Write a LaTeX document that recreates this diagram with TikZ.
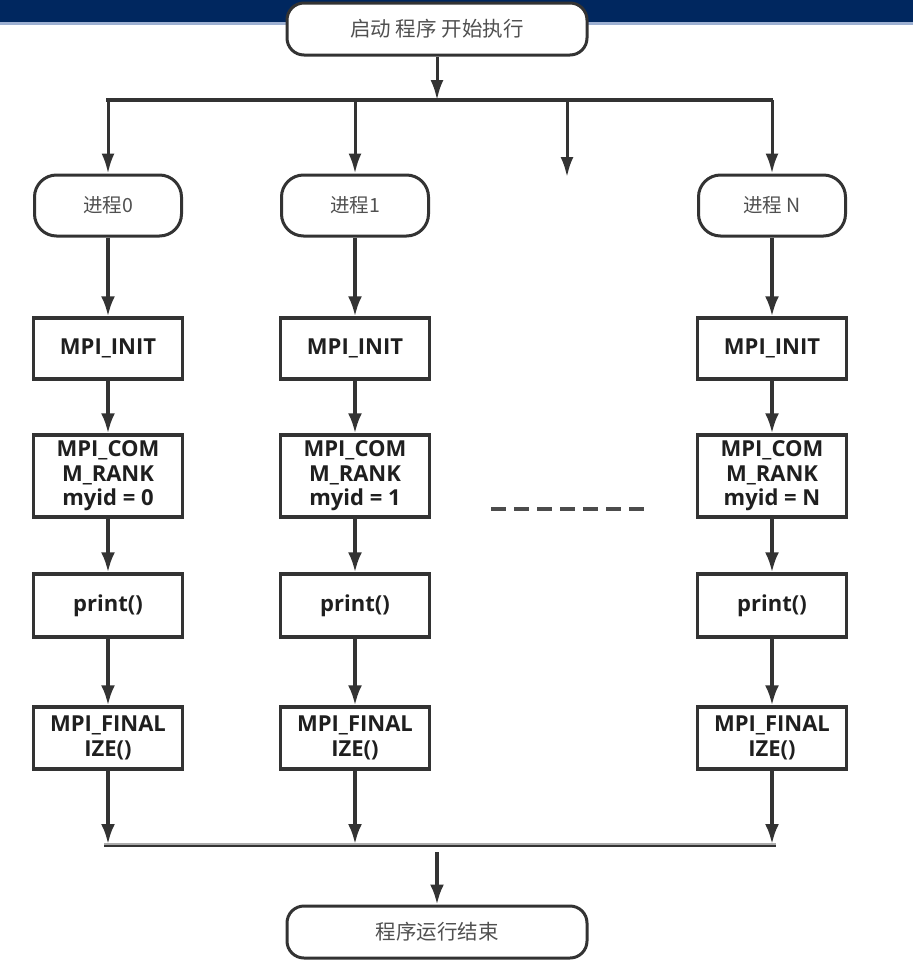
\documentclass[tikz,border=0pt]{standalone}
\usepackage{fontspec}
\setmainfont{Open Sans}
\newfontfamily\cjk{Noto Sans CJK SC}
\usetikzlibrary{arrows.meta}
\definecolor{band}{HTML}{00275F}
\definecolor{bandline}{HTML}{9DB0D2}
\definecolor{lineclr}{HTML}{333333}
\definecolor{cjktext}{HTML}{505050}
\tikzset{
  term/.style={draw=lineclr, line width=3pt, fill=white, rounded corners=22pt,
    minimum width=147pt, minimum height=61pt, inner sep=0pt,
    font=\cjk\fontsize{19.5}{23}\selectfont, text=cjktext},
  bigterm/.style={term, rounded corners=17pt, minimum width=300pt, minimum height=52pt,
    font=\cjk\fontsize{20.5}{24}\selectfont},
  procbox/.style={draw=lineclr, line width=3.4pt, fill=white, minimum width=149pt,
    inner sep=0pt, font=\bfseries\fontsize{22}{24.5}\selectfont, text=black!88, align=center},
  arr/.style={draw=lineclr, line width=3.4pt, -{Latex[length=20pt,width=14pt]}},
  thinarr/.style={draw=lineclr, line width=3pt, -{Latex[length=20pt,width=13pt]}},
  busline/.style={draw=lineclr, line width=3.2pt},
}
\begin{document}
\begin{tikzpicture}[x=1pt,y=-1pt]
\useasboundingbox (0,0) rectangle (913,961);
% top band
\fill[band] (0,0) rectangle (913,22);
\fill[bandline] (0,22) rectangle (913,25);

% start and end
\node[bigterm] (start) at (437,29) {启动 程序 开始执行};
\node[bigterm] (finish) at (437,932) {程序运行结束};

% bus coordinates
\coordinate (topin) at (437,100);
\coordinate (tbl) at (106,100);
\coordinate (tbr) at (773,100);
\coordinate (bbl) at (104,845);
\coordinate (bbr) at (776,845);
\coordinate (botout) at (437,852);
\coordinate (dotsA) at (491,509);
\coordinate (dotsB) at (647,509);
\coordinate (danglestart) at (567,100);
\coordinate (dangleend) at (567,177);

% columns
\foreach \i/\x/\lab/\id in {0/108/进程0/0, 1/355/进程1/1, N/772/进程 N/N}{
  \node[term] (p\i) at (\x,205.5) {\lab};
  \node[procbox, minimum height=61pt] (init\i) at (\x,348.5) {MPI\_INIT};
  \node[procbox, minimum height=82pt] (rank\i) at (\x,476) {MPI\_COM\\M\_RANK\\myid = \id};
  \node[procbox, minimum height=63pt] (print\i) at (\x,605.5) {print()};
  \node[procbox, minimum height=62pt] (fin\i) at (\x,738) {MPI\_FINAL\\IZE()};
  \coordinate (ttop\i) at (\x,100);
  \coordinate (bbot\i) at (\x,844);
  \draw[thinarr] (ttop\i) -- (p\i.north);
  \draw[arr] (p\i.south) -- (init\i.north);
  \draw[arr] (init\i.south) -- (rank\i.north);
  \draw[arr] (rank\i.south) -- (print\i.north);
  \draw[arr] (print\i.south) -- (fin\i.north);
  \draw[arr] (fin\i.south) -- (bbot\i);
}

% top bus
\draw[busline] (tbl) -- (tbr);
\draw[thinarr] (start.south) -- (topin);
\draw[thinarr] (danglestart) -- (dangleend);

% bottom bus
\draw[draw=lineclr, line width=4.5pt] (bbl) -- (bbr);
\draw[draw=gray!65, line width=1.6pt] ([yshift=1.3pt]bbl) -- ([yshift=1.3pt]bbr);
\draw[arr] (botout) -- (finish.north);

% dashes
\draw[draw=black!70, line width=3.4pt, dash pattern=on 15pt off 8pt] (dotsA) -- (dotsB);
\end{tikzpicture}
\end{document}
